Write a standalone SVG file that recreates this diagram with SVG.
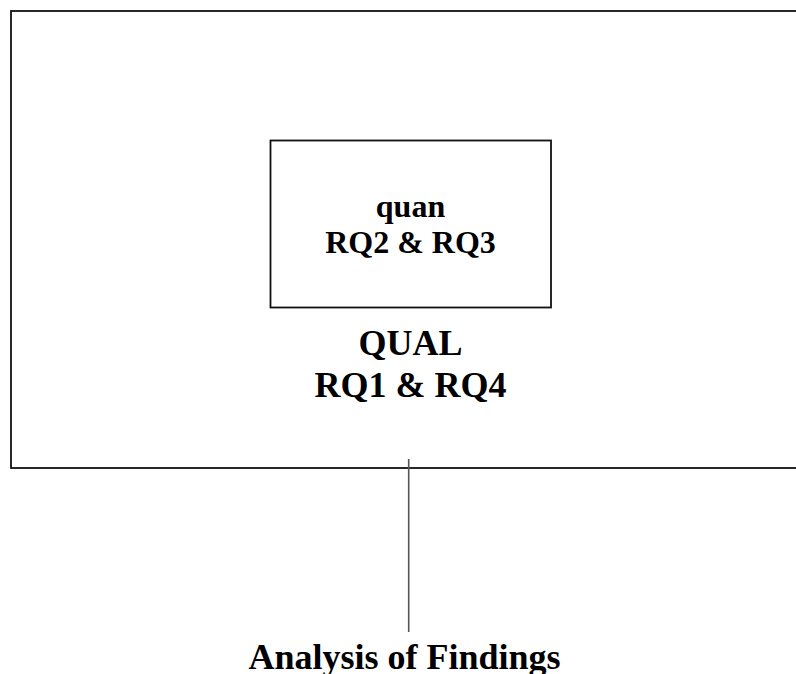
<svg xmlns="http://www.w3.org/2000/svg" width="796" height="674" viewBox="0 0 796 674">
<style>
.box{fill:none;stroke:#111;stroke-width:1.8}
.t{font-family:"Liberation Serif","Times New Roman",serif;font-weight:bold;fill:#000;text-anchor:middle}
.conn{stroke:#555;stroke-width:1.6;fill:none}
</style>
<rect width="796" height="674" fill="#fff"/>
<g id="qual">
<rect class="box" x="11" y="11" width="800" height="457"/>
<text class="t" x="410.5" y="355" font-size="36">QUAL</text>
<text class="t" x="410.5" y="397" font-size="36">RQ1 &amp; RQ4</text>
</g>
<g id="quan">
<rect class="box" x="270.5" y="140.5" width="280.5" height="167" stroke-width="1.6"/>
<text class="t" x="410.5" y="217" font-size="32">quan</text>
<text class="t" x="410.5" y="253" font-size="32">RQ2 &amp; RQ3</text>
</g>
<g id="connectors">
<line class="conn" x1="408.7" y1="459" x2="408.7" y2="632"/>
</g>
<g id="analysis">
<text class="t" x="404.5" y="669" font-size="36">Analysis of Findings</text>
</g>
</svg>
